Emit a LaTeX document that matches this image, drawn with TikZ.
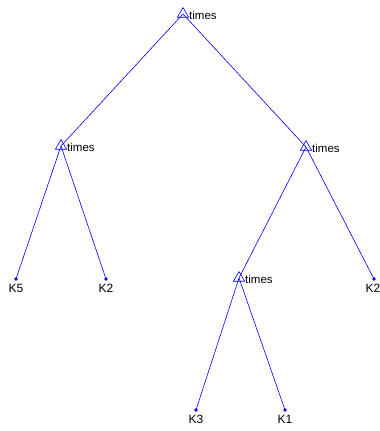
\documentclass[tikz,border=0pt]{standalone}
\usepackage{fontspec}
\setmainfont{Liberation Sans}
\usetikzlibrary{shapes.geometric}
\tikzset{
  op/.style={regular polygon, regular polygon sides=3, minimum size=13pt, inner sep=0pt, draw=blue, line width=0.6pt},
  leaf/.style={circle, fill=blue, inner sep=0pt, minimum size=3.8pt},
  edge/.style={blue, line width=0.6pt},
  optext/.style={anchor=west, inner sep=0pt, font=\fontsize{11.5}{12}\selectfont},
  leaftext/.style={anchor=north, inner sep=0pt, font=\fontsize{12}{13}\selectfont}
}
\begin{document}
\begin{tikzpicture}[x=1pt,y=-1pt]
\useasboundingbox (0,0) rectangle (380,431);
% nodes
\node[op] (R) at (183,14) {};
\node[op] (A) at (61,146) {};
\node[op] (B) at (306,147) {};
\node[op] (C) at (239,278) {};
\node[leaf] (K5) at (16,279) {};
\node[leaf] (K2a) at (106,279) {};
\node[leaf] (K2b) at (374,279) {};
\node[leaf] (K3) at (196,410) {};
\node[leaf] (K1) at (285,410) {};
% edges
\draw[edge] (R.center) -- (A.center);
\draw[edge] (R.center) -- (B.center);
\draw[edge] (A.center) -- (K5.center);
\draw[edge] (A.center) -- (K2a.center);
\draw[edge] (B.center) -- (C.center);
\draw[edge] (B.center) -- (K2b.center);
\draw[edge] (C.center) -- (K3.center);
\draw[edge] (C.center) -- (K1.center);
% labels
\node[optext] (tR) at (189,15) {times};
\node[optext] (tA) at (67,147) {times};
\node[optext] (tB) at (312,148) {times};
\node[optext] (tC) at (245,279) {times};
\node[leaftext] (lK5) at (16,284) {K5};
\node[leaftext] (lK2a) at (106,284) {K2};
\node[leaftext] (lK2b) at (373,284) {K2};
\node[leaftext] (lK3) at (196,415) {K3};
\node[leaftext] (lK1) at (285,415) {K1};
\end{tikzpicture}
\end{document}
